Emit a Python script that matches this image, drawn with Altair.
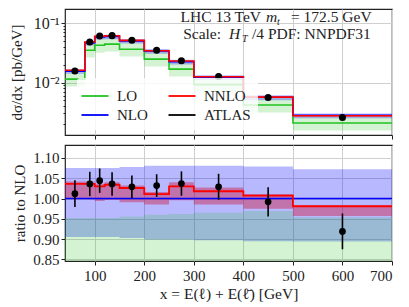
import altair as alt
import pandas as pd

# ---------------- data ----------------
edges = [40, 80, 100, 120, 150, 200, 250, 300, 400, 500, 700]
centers = [60, 90, 110, 135, 175, 225, 275, 350, 450, 600]

nlo = [0.0155, 0.0467, 0.0585, 0.0596, 0.0502, 0.0340, 0.0224, 0.01227, 0.00563, 0.00280]
lo = [0.0114, 0.0351, 0.0425, 0.0445, 0.0365, 0.0248, 0.0168, 0.00915, 0.00416, 0.00207]
lo_lower = [0.0086, 0.0264, 0.0318, 0.0333, 0.0274, 0.0186, 0.0126, 0.00686, 0.00312, 0.00155]
lo_upper_ratio = [0.952, 0.952, 0.952, 0.952, 0.956, 0.960, 0.962, 0.965, 0.969, 0.954]

nlo_ratio_hi = [1.075, 1.075, 1.075, 1.075, 1.078, 1.081, 1.081, 1.081, 1.079, 1.072]
nlo_ratio_lo = [0.905, 0.905, 0.905, 0.905, 0.903, 0.899, 0.899, 0.897, 0.895, 0.894]

nnlo_ratio = [1.036, 1.036, 1.030, 1.034, 1.026, 1.011, 1.030, 1.018, 1.007, 0.981]
nnlo_ratio_hi = [1.042, 1.042, 1.036, 1.040, 1.032, 1.016, 1.040, 1.027, 1.011, 0.983]
nnlo_ratio_lo = [0.998, 0.998, 0.994, 0.997, 0.991, 0.985, 0.996, 0.985, 0.975, 0.957]

atlas_ratio = [1.012, 1.036, 1.044, 1.036, 1.029, 1.032, 1.037, 1.029, 0.992, 0.919]
atlas_err = [0.033, 0.030, 0.030, 0.029, 0.028, 0.028, 0.030, 0.032, 0.036, 0.044]

series_names = ["LO", "NLO", "NNLO", "ATLAS"]
series_colors = ["#22c422", "blue", "red", "black"]

x_ticks = [100, 200, 300, 400, 500, 600, 700]
ratio_ticks = [0.85, 0.90, 0.95, 1.00, 1.05, 1.10]
log_major = [0.01, 0.1]
log_minor = [0.002, 0.003, 0.004, 0.005, 0.006, 0.007, 0.008, 0.009,
             0.02, 0.03, 0.04, 0.05, 0.06, 0.07, 0.08, 0.09]

FONT = "Liberation Serif"
W, H_TOP, H_BOT = 327, 126, 116
X_DOM = [40, 700]
TOP_DOM = [0.0013, 0.174]
BOT_DOM = [0.846, 1.132]


def stepped(vals):
    return list(vals) + [vals[-1]]


n = len(nlo)
steps = pd.DataFrame({
    "x": edges,
    "nlo": stepped(nlo),
    "lo": stepped(lo),
    "nnlo": stepped([nlo[i] * nnlo_ratio[i] for i in range(n)]),
    "lo_band_lo": stepped(lo_lower),
    "lo_band_hi": stepped([nlo[i] * lo_upper_ratio[i] for i in range(n)]),
    "nlo_band_lo": stepped([nlo[i] * nlo_ratio_lo[i] for i in range(n)]),
    "nlo_band_hi": stepped([nlo[i] * nlo_ratio_hi[i] for i in range(n)]),
    "nnlo_band_lo": stepped([nlo[i] * nnlo_ratio_lo[i] for i in range(n)]),
    "nnlo_band_hi": stepped([nlo[i] * nnlo_ratio_hi[i] for i in range(n)]),
    "r_one": stepped([1.0] * n),
    "r_lo": stepped([lo[i] / nlo[i] for i in range(n)]),
    "r_nnlo": stepped(nnlo_ratio),
    "r_lo_band_lo": stepped([lo_lower[i] / nlo[i] for i in range(n)]),
    "r_lo_band_hi": stepped(lo_upper_ratio),
    "r_nlo_band_lo": stepped(nlo_ratio_lo),
    "r_nlo_band_hi": stepped(nlo_ratio_hi),
    "r_nnlo_band_lo": stepped(nnlo_ratio_lo),
    "r_nnlo_band_hi": stepped(nnlo_ratio_hi),
})

lines_long = pd.concat([
    pd.DataFrame({"x": edges, "y": steps["lo"], "series": "LO"}),
    pd.DataFrame({"x": edges, "y": steps["nlo"], "series": "NLO"}),
    pd.DataFrame({"x": edges, "y": steps["nnlo"], "series": "NNLO"}),
])

pts = pd.DataFrame({
    "x": centers,
    "y": [nlo[i] * atlas_ratio[i] for i in range(n)],
    "ylo": [nlo[i] * (atlas_ratio[i] - atlas_err[i]) for i in range(n)],
    "yhi": [nlo[i] * (atlas_ratio[i] + atlas_err[i]) for i in range(n)],
    "r": atlas_ratio,
    "rlo": [atlas_ratio[i] - atlas_err[i] for i in range(n)],
    "rhi": [atlas_ratio[i] + atlas_err[i] for i in range(n)],
})

is_major = "datum.value == 0.1 || datum.value == 0.01"

x_top = alt.X("x:Q", scale=alt.Scale(domain=X_DOM, nice=False, zero=False),
              axis=alt.Axis(values=x_ticks, tickCount=20, labels=False, title=None,
                            tickSize=4, grid=True))
y_top_axis = alt.Axis(
    values=log_major + log_minor, tickCount=40,
    labelExpr="datum.value == 0.1 ? '10⁻¹' : (datum.value == 0.01 ? '10⁻²' : '')",
    tickSize={"condition": {"test": is_major, "value": 4}, "value": 2},
    gridOpacity={"condition": {"test": is_major, "value": 1}, "value": 0},
    title="dσ/dx [pb/GeV]", titlePadding=9, labelPadding=2, labelFontSize=16,
    labelOverlap=False,
)
y_top_scale = alt.Scale(type="log", domain=TOP_DOM, nice=False, zero=False)

base_top = alt.Chart(steps)

band_lo = base_top.mark_area(interpolate="step-after", color="#22c422", opacity=0.2).encode(
    x=x_top, y=alt.Y("lo_band_lo:Q", scale=y_top_scale, axis=y_top_axis), y2="lo_band_hi:Q")
band_nlo = base_top.mark_area(interpolate="step-after", color="blue", opacity=0.28).encode(
    x="x:Q", y="nlo_band_lo:Q", y2="nlo_band_hi:Q")
band_nnlo = base_top.mark_area(interpolate="step-after", color="red", opacity=0.4).encode(
    x="x:Q", y="nnlo_band_lo:Q", y2="nnlo_band_hi:Q")

lines_top = alt.Chart(lines_long).mark_line(interpolate="step-after", strokeWidth=1.6).encode(
    x="x:Q", y="y:Q",
    color=alt.Color("series:N",
                    scale=alt.Scale(domain=series_names, range=series_colors),
                    legend=alt.Legend(
                        title=None, orient="none", legendX=12, legendY=69,
                        columns=2, symbolType="M-1.35,0H1.35", symbolSize=400,
                        symbolStrokeWidth=1.8, labelFont=FONT, labelFontSize=15,
                        labelColor="#222222",
                        fillColor="rgba(255,255,255,0.8)", padding=7,
                        columnPadding=16, rowPadding=-3, labelOffset=11,
                        cornerRadius=3)),
    detail="series:N",
)

err_top = alt.Chart(pts).mark_rule(color="black", strokeWidth=1.5).encode(
    x="x:Q", y="ylo:Q", y2="yhi:Q")
pts_top = alt.Chart(pts).mark_circle(color="black", size=50, opacity=1).encode(
    x="x:Q", y="y:Q")

txt_rows = pd.DataFrame({"k": [0]})


def label(text, x, y, align, size=15.5, style="normal"):
    return alt.Chart(txt_rows).mark_text(
        text=text, align=align, baseline="alphabetic", font=FONT,
        fontSize=size, fontStyle=style, color="#222222").encode(
        x=alt.value(x), y=alt.value(y))


texts = [
    label("LHC 13 TeV", 196, 13, "right"),
    label("m", 201, 13, "left", style="italic"),
    label("t", 212, 15.5, "left", size=10, style="italic"),
    label("= 172.5 GeV", 226, 13, "left"),
    label("Scale:", 156, 30, "right"),
    label("H", 164, 30, "left", style="italic"),
    label("T", 177, 32.5, "left", size=10, style="italic"),
    label("/4 PDF: NNPDF31", 187, 30, "left"),
]

top = alt.layer(band_lo, band_nlo, band_nnlo, lines_top, err_top, pts_top, *texts).properties(
    width=W, height=H_TOP)

# ---------------- ratio panel ----------------
x_bot = alt.X("x:Q", scale=alt.Scale(domain=X_DOM, nice=False, zero=False),
              axis=alt.Axis(values=x_ticks, tickCount=20, title="x = E(ℓ) + E(ℓ̄) [GeV]",
                            tickSize=4, labelPadding=3, titlePadding=3, grid=True,
                            titleFontSize=15.5))
y_bot_scale = alt.Scale(domain=BOT_DOM, nice=False, zero=False)
y_bot_axis = alt.Axis(values=ratio_ticks, tickCount=20, title="ratio to NLO",
                      labelExpr="format(datum.value, '.2f')",
                      titlePadding=5, labelPadding=2, tickSize=4, labelOverlap=False,
                      labelFontSize=15)

base_bot = alt.Chart(steps)
rb_nlo = base_bot.mark_area(interpolate="step-after", color="blue", opacity=0.28, clip=True).encode(
    x=x_bot, y=alt.Y("r_nlo_band_lo:Q", scale=y_bot_scale, axis=y_bot_axis), y2="r_nlo_band_hi:Q")
rb_lo = base_bot.mark_area(interpolate="step-after", color="#22c422", opacity=0.2, clip=True).encode(
    x="x:Q", y="r_lo_band_lo:Q", y2="r_lo_band_hi:Q")
rb_nnlo = base_bot.mark_area(interpolate="step-after", color="#d01030", opacity=0.4, clip=True).encode(
    x="x:Q", y="r_nnlo_band_lo:Q", y2="r_nnlo_band_hi:Q")
rl_lo = base_bot.mark_line(interpolate="step-after", color="#22c422", strokeWidth=1.6, clip=True).encode(
    x="x:Q", y="r_lo:Q")
rl_nlo = base_bot.mark_line(interpolate="step-after", color="blue", strokeWidth=1.6, clip=True).encode(
    x="x:Q", y="r_one:Q")
rl_nnlo = base_bot.mark_line(interpolate="step-after", color="red", strokeWidth=1.8, clip=True).encode(
    x="x:Q", y="r_nnlo:Q")
err_bot = alt.Chart(pts).mark_rule(color="black", strokeWidth=1.6).encode(
    x="x:Q", y="rlo:Q", y2="rhi:Q")
pts_bot = alt.Chart(pts).mark_circle(color="black", size=45, opacity=1).encode(
    x="x:Q", y="r:Q")

bottom = alt.layer(rb_nlo, rb_lo, rb_nnlo, rl_lo, rl_nlo, rl_nnlo, err_bot, pts_bot).properties(
    width=W, height=H_BOT)

chart = alt.vconcat(top, bottom, spacing=3).configure(
    padding=0, background="white"
).configure_view(
    stroke="#222222", strokeWidth=1.2
).configure_axis(
    labelFont=FONT, titleFont=FONT, labelFontSize=15, titleFontSize=15,
    titleFontWeight="normal", labelColor="#222222", titleColor="#222222",
    domain=False, tickColor="#222222", gridColor="#cfcfcf", gridWidth=1,
    labelOverlap=False,
)

chart.save("out.html", embed_options={"renderer": "svg", "actions": False})
